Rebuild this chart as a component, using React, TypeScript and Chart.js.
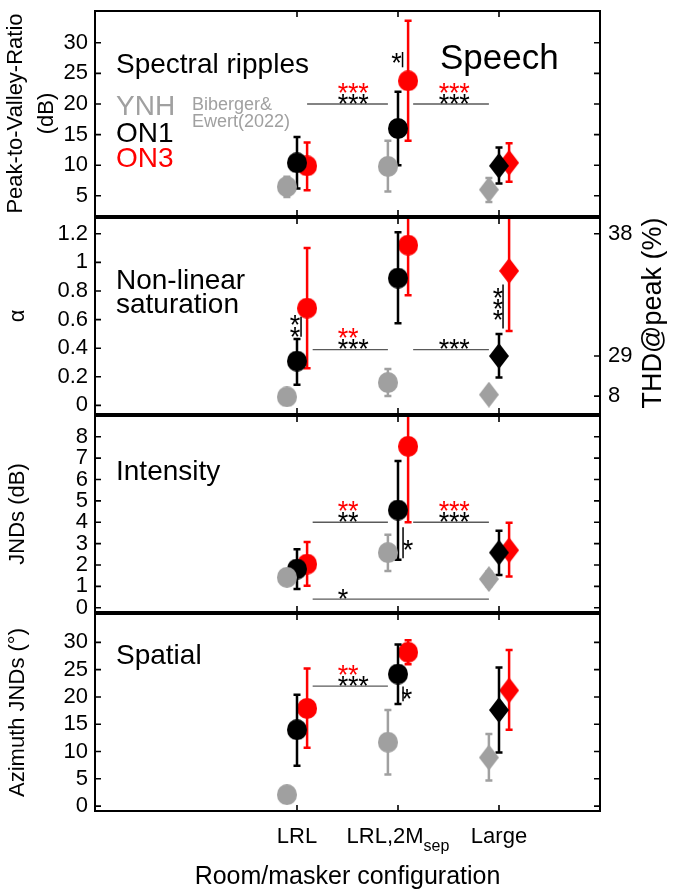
import { useEffect, useRef } from 'react';
import { Chart, registerables } from 'chart.js';

Chart.register(...registerables);

const FONT = '"Liberation Sans", Arial, Helvetica, sans-serif';
Chart.defaults.font.family = FONT;
Chart.defaults.color = '#000';

// Room/masker configurations on the shared x axis
const categoryPos = [1, 2, 3];
const categoryLabels = ['LRL', 'LRL,2M', 'Large'];
const categorySubscripts = ['', 'sep', ''];
const markerShapes = ['circle', 'circle', 'diamond'];

// Listener groups
const groupNames = ['YNH', 'ON1', 'ON3'];
const groupColors = ['#a0a0a0', '#000000', '#ff0000'];
const groupOffsets = [-0.1, 0, 0.1];

// Spectral ripples: peak-to-valley ratio (dB)
const rippleYNH = [6.5, 9.8, 6.0];
const rippleYNHLow = [4.8, 5.7, 4.0];
const rippleYNHHigh = [8.1, 14.0, 7.9];
const rippleON1 = [10.4, 16.0, 9.9];
const rippleON1Low = [6.2, 10.0, 7.0];
const rippleON1High = [14.6, 22.0, 12.9];
const rippleON3 = [9.9, 23.8, 10.4];
const rippleON3Low = [5.9, 14.0, 7.3];
const rippleON3High = [13.7, 33.6, 13.6];
const rippleTicks = [5, 10, 15, 20, 25, 30];

// Non-linear saturation: alpha
const alphaYNH = [0.06, 0.16, 0.075];
const alphaYNHLow = [0.03, 0.065, 0.05];
const alphaYNHHigh = [0.09, 0.255, 0.1];
const alphaON1 = [0.31, 0.89, 0.345];
const alphaON1Low = [0.145, 0.575, 0.195];
const alphaON1High = [0.465, 1.21, 0.5];
const alphaON3 = [0.68, 1.12, 0.94];
const alphaON3Low = [0.26, 0.77, 0.52];
const alphaON3High = [1.1, 1.47, 1.36];
const alphaTicks = [0, 0.2, 0.4, 0.6, 0.8, 1, 1.2];
// THD at peak (%) corresponding to alpha values on the right axis
const thdAlpha = [0.065, 0.345, 1.2];
const thdLabels = ['8', '29', '38'];

// Intensity JNDs (dB)
const intensityYNH = [1.42, 2.58, 1.34];
const intensityYNHLow = [1.1, 1.72, 1.0];
const intensityYNHHigh = [1.75, 3.42, 1.7];
const intensityON1 = [1.81, 4.57, 2.58];
const intensityON1Low = [0.88, 2.24, 1.53];
const intensityON1High = [2.73, 6.87, 3.6];
const intensityON3 = [2.04, 7.55, 2.69];
const intensityON3Low = [1.03, 4.0, 1.46];
const intensityON3High = [3.07, 11.1, 3.97];
const intensityTicks = [0, 1, 2, 3, 4, 5, 6, 7, 8];

// Spatial: azimuth JNDs (degrees)
const spatialYNH = [2.1, 11.7, 8.9];
const spatialYNHLow = [1.2, 5.8, 4.7];
const spatialYNHHigh = [3.0, 17.6, 13.2];
const spatialON1 = [14.0, 24.2, 17.6];
const spatialON1Low = [7.4, 18.7, 9.8];
const spatialON1High = [20.4, 29.6, 25.4];
const spatialON3 = [17.9, 28.2, 21.2];
const spatialON3Low = [10.7, 26.0, 14.0];
const spatialON3High = [25.2, 30.4, 28.6];
const spatialTicks = [0, 5, 10, 15, 20, 25, 30];

type Series = { mean: number[]; low: number[]; high: number[] };
type HLine = { x1: number; x2: number; y: number; black: number; red: number; starsAt: number };
type VMark = { x: number; y1: number; y2: number; starX: number; starYs: number[] };
type PanelText = { text: string; x: number; dy: number; size: number; color: string };
type Panel = {
  frameTop: number;
  frameBottom: number;
  yMin: number;
  yMax: number;
  yTicks: number[];
  yTitle: string | string[];
  titleLineHeight: number;
  titlePad: number;
  series: Series[];
  hlines: HLine[];
  vmarks: VMark[];
  texts: PanelText[];
  right?: { ticks: number[]; labels: string[]; title: string };
  bottom?: boolean;
};

const GRAY = '#a0a0a0';

const panels: Panel[] = [
  {
    frameTop: 10,
    frameBottom: 217,
    yMin: 1.7,
    yMax: 35.2,
    yTicks: rippleTicks,
    yTitle: ['Peak-to-Valley-Ratio', '(dB)'],
    titleLineHeight: 1.43,
    titlePad: 0,
    series: [
      { mean: rippleYNH, low: rippleYNHLow, high: rippleYNHHigh },
      { mean: rippleON1, low: rippleON1Low, high: rippleON1High },
      { mean: rippleON3, low: rippleON3Low, high: rippleON3High },
    ],
    hlines: [
      { x1: 1.1, x2: 1.9, y: 20, black: 3, red: 3, starsAt: 1.41 },
      { x1: 2.15, x2: 2.9, y: 20, black: 3, red: 3, starsAt: 2.41 },
    ],
    vmarks: [{ x: 2.045, y1: 26.0, y2: 28.5, starX: 1.985, starYs: [27.6] }],
    texts: [
      { text: 'Spectral ripples', x: 116, dy: 62, size: 28, color: '#000' },
      { text: 'Speech', x: 440, dy: 58, size: 35, color: '#000' },
      { text: groupNames[0], x: 116, dy: 104, size: 28, color: GRAY },
      { text: groupNames[1], x: 116, dy: 131, size: 28, color: '#000' },
      { text: groupNames[2], x: 116, dy: 156, size: 28, color: '#ff0000' },
      { text: 'Biberger&', x: 192, dy: 99, size: 18, color: GRAY },
      { text: 'Ewert(2022)', x: 192, dy: 116, size: 18, color: GRAY },
    ],
  },
  {
    frameTop: 217,
    frameBottom: 415,
    yMin: -0.06,
    yMax: 1.31,
    yTicks: alphaTicks,
    yTitle: 'α',
    titleLineHeight: 1.2,
    titlePad: 5,
    series: [
      { mean: alphaYNH, low: alphaYNHLow, high: alphaYNHHigh },
      { mean: alphaON1, low: alphaON1Low, high: alphaON1High },
      { mean: alphaON3, low: alphaON3Low, high: alphaON3High },
    ],
    hlines: [
      { x1: 1.155, x2: 1.9, y: 0.39, black: 3, red: 2, starsAt: 1.41 },
      { x1: 2.15, x2: 2.9, y: 0.39, black: 3, red: 0, starsAt: 2.41 },
    ],
    vmarks: [
      { x: 1.04, y1: 0.48, y2: 0.62, starX: 0.98, starYs: [0.595, 0.514] },
      { x: 3.04, y1: 0.538, y2: 0.846, starX: 2.99, starYs: [0.785, 0.709, 0.634] },
    ],
    texts: [
      { text: 'Non-linear', x: 116, dy: 71, size: 28, color: '#000' },
      { text: 'saturation', x: 116, dy: 95, size: 28, color: '#000' },
    ],
    right: { ticks: thdAlpha, labels: thdLabels, title: 'THD@peak (%)' },
  },
  {
    frameTop: 415,
    frameBottom: 613,
    yMin: -0.2,
    yMax: 8.97,
    yTicks: intensityTicks,
    yTitle: 'JNDs (dB)',
    titleLineHeight: 1.2,
    titlePad: 5,
    series: [
      { mean: intensityYNH, low: intensityYNHLow, high: intensityYNHHigh },
      { mean: intensityON1, low: intensityON1Low, high: intensityON1High },
      { mean: intensityON3, low: intensityON3Low, high: intensityON3High },
    ],
    hlines: [
      { x1: 1.155, x2: 1.9, y: 4.0, black: 2, red: 2, starsAt: 1.41 },
      { x1: 2.15, x2: 2.9, y: 4.0, black: 3, red: 3, starsAt: 2.41 },
      { x1: 1.155, x2: 2.9, y: 0.4, black: 1, red: 0, starsAt: 1.41 },
    ],
    vmarks: [{ x: 2.05, y1: 2.32, y2: 3.77, starX: 2.1, starYs: [2.93] }],
    texts: [{ text: 'Intensity', x: 116, dy: 64, size: 28, color: '#000' }],
  },
  {
    frameTop: 613,
    frameBottom: 811,
    yMin: -0.9,
    yMax: 35.2,
    yTicks: spatialTicks,
    yTitle: 'Azimuth JNDs (°)',
    titleLineHeight: 1.2,
    titlePad: 5,
    series: [
      { mean: spatialYNH, low: spatialYNHLow, high: spatialYNHHigh },
      { mean: spatialON1, low: spatialON1Low, high: spatialON1High },
      { mean: spatialON3, low: spatialON3Low, high: spatialON3High },
    ],
    hlines: [{ x1: 1.155, x2: 1.9, y: 22, black: 3, red: 2, starsAt: 1.41 }],
    vmarks: [{ x: 2.05, y1: 19.2, y2: 21.9, starX: 2.09, starYs: [20.6] }],
    texts: [{ text: 'Spatial', x: 116, dy: 50, size: 28, color: '#000' }],
    bottom: true,
  },
];

const PAGE_H = 892;
const FRAME_LEFT = 95;
const FRAME_RIGHT = 600;
const CANVAS_W = 680;
const MARGIN = 10;

function canvasBox(p: Panel) {
  const top = p.frameTop - MARGIN;
  const height = p.bottom ? PAGE_H - top : p.frameBottom - p.frameTop + 2 * MARGIN;
  return { top, height };
}

function markerImage(shape: string, color: string): HTMLCanvasElement {
  const w = 20;
  const h = shape === 'circle' ? 21 : 26;
  const c = document.createElement('canvas');
  c.width = w;
  c.height = h;
  const g = c.getContext('2d')!;
  g.fillStyle = color;
  g.beginPath();
  if (shape === 'circle') {
    g.ellipse(w / 2, h / 2, w / 2, h / 2, 0, 0, Math.PI * 2);
  } else {
    g.moveTo(w / 2, 0);
    g.lineTo(w, h / 2);
    g.lineTo(w / 2, h);
    g.lineTo(0, h / 2);
    g.closePath();
  }
  g.fill();
  return c;
}

function drawStar(ctx: CanvasRenderingContext2D, cx: number, cy: number, color: string) {
  ctx.font = `27px ${FONT}`;
  const m = ctx.measureText('*');
  const off = (m.actualBoundingBoxAscent - m.actualBoundingBoxDescent) / 2;
  ctx.fillStyle = color;
  ctx.textAlign = 'center';
  ctx.textBaseline = 'alphabetic';
  ctx.fillText('*', cx, cy + off);
}

function zeroPadding(s: any) {
  s.paddingTop = 0;
  s.paddingBottom = 0;
  s.paddingLeft = 0;
  s.paddingRight = 0;
}

function makeDecor(p: Panel) {
  return {
    id: 'panelDecor',
    beforeDatasetDraw(chart: any, args: any) {
      const ds = chart.data.datasets[args.index];
      const { ctx, chartArea: ca } = chart;
      const x = chart.scales.x;
      const y = chart.scales.y;
      ctx.save();
      ctx.beginPath();
      ctx.rect(ca.left, ca.top, ca.right - ca.left, ca.bottom - ca.top);
      ctx.clip();
      ctx.strokeStyle = ds.barColor;
      ctx.lineWidth = 2.5;
      ds.data.forEach((pt: any, i: number) => {
        const px = x.getPixelForValue(pt.x);
        const lo = y.getPixelForValue(ds.errLow[i]);
        const hi = y.getPixelForValue(ds.errHigh[i]);
        ctx.beginPath();
        ctx.moveTo(px, lo);
        ctx.lineTo(px, hi);
        ctx.moveTo(px - 3.5, lo);
        ctx.lineTo(px + 3.5, lo);
        ctx.moveTo(px - 3.5, hi);
        ctx.lineTo(px + 3.5, hi);
        ctx.stroke();
      });
      ctx.restore();
    },
    afterDatasetsDraw(chart: any) {
      const { ctx, chartArea: ca } = chart;
      const x = chart.scales.x;
      const y = chart.scales.y;
      ctx.save();
      // significance brackets
      for (const h of p.hlines) {
        const py = y.getPixelForValue(h.y);
        ctx.strokeStyle = '#5a5a5a';
        ctx.lineWidth = 1.3;
        ctx.beginPath();
        ctx.moveTo(x.getPixelForValue(h.x1), py);
        ctx.lineTo(x.getPixelForValue(h.x2), py);
        ctx.stroke();
        const x0 = x.getPixelForValue(h.starsAt) + 4.5;
        for (let i = 0; i < h.black; i++) drawStar(ctx, x0 + i * 10.3, py - 5.5, '#000');
        for (let i = 0; i < h.red; i++) drawStar(ctx, x0 + i * 10.3, py - 16.5, '#ff0000');
      }
      for (const v of p.vmarks) {
        const px = x.getPixelForValue(v.x);
        ctx.strokeStyle = '#000';
        ctx.lineWidth = 1.5;
        ctx.beginPath();
        ctx.moveTo(px, y.getPixelForValue(v.y1));
        ctx.lineTo(px, y.getPixelForValue(v.y2));
        ctx.stroke();
        const sx = x.getPixelForValue(v.starX);
        for (const sy of v.starYs) drawStar(ctx, sx, y.getPixelForValue(sy), '#000');
      }
      // panel labels
      ctx.textAlign = 'left';
      ctx.textBaseline = 'alphabetic';
      for (const t of p.texts) {
        ctx.font = `${t.size}px ${FONT}`;
        ctx.fillStyle = t.color;
        ctx.fillText(t.text, t.x, ca.top + t.dy);
      }
      ctx.restore();
    },
    afterDraw(chart: any) {
      const { ctx, chartArea: ca } = chart;
      const x = chart.scales.x;
      const y = chart.scales.y;
      const TL = 6;
      ctx.save();
      ctx.strokeStyle = '#000';
      ctx.lineWidth = 2;
      ctx.strokeRect(ca.left, ca.top, ca.right - ca.left, ca.bottom - ca.top);
      ctx.lineWidth = 1.6;
      ctx.beginPath();
      for (const t of y.ticks) {
        const py = y.getPixelForValue(t.value);
        ctx.moveTo(ca.left, py);
        ctx.lineTo(ca.left + TL, py);
        if (!p.right) {
          ctx.moveTo(ca.right, py);
          ctx.lineTo(ca.right - TL, py);
        }
      }
      if (p.right) {
        const y2 = chart.scales.y2;
        for (const t of y2.ticks) {
          const py = y2.getPixelForValue(t.value);
          ctx.moveTo(ca.right, py);
          ctx.lineTo(ca.right - TL, py);
        }
      }
      for (const c of categoryPos) {
        const px = x.getPixelForValue(c);
        ctx.moveTo(px, ca.top);
        ctx.lineTo(px, ca.top + TL);
        ctx.moveTo(px, ca.bottom);
        ctx.lineTo(px, ca.bottom - TL);
      }
      ctx.stroke();

      // right-hand axis title, reading bottom to top
      if (p.right) {
        ctx.save();
        ctx.translate(654, (ca.top + ca.bottom) / 2 - 3);
        ctx.rotate(-Math.PI / 2);
        ctx.font = `27px ${FONT}`;
        ctx.fillStyle = '#000';
        ctx.textAlign = 'center';
        ctx.textBaseline = 'middle';
        ctx.fillText(p.right.title, 0, 0);
        ctx.restore();
      }

      // configuration labels with subscripts
      if (p.bottom) {
        const base = ca.bottom + 32;
        ctx.fillStyle = '#000';
        ctx.textBaseline = 'alphabetic';
        ctx.textAlign = 'left';
        categoryPos.forEach((c, i) => {
          ctx.font = `22px ${FONT}`;
          const wMain = ctx.measureText(categoryLabels[i]).width;
          ctx.font = `16px ${FONT}`;
          const wSub = categorySubscripts[i] ? ctx.measureText(categorySubscripts[i]).width : 0;
          const start = x.getPixelForValue(c) - (wMain + wSub) / 2;
          ctx.font = `22px ${FONT}`;
          ctx.fillText(categoryLabels[i], start, base);
          if (wSub) {
            ctx.font = `16px ${FONT}`;
            ctx.fillText(categorySubscripts[i], start + wMain, base + 8);
          }
        });
      }
      ctx.restore();
    },
  };
}

function buildChart(canvas: HTMLCanvasElement, p: Panel) {
  const datasets = p.series.map((s, gi) => ({
    label: groupNames[gi],
    data: s.mean.map((v, i) => ({ x: categoryPos[i] + groupOffsets[gi], y: v })),
    errLow: s.low,
    errHigh: s.high,
    barColor: groupColors[gi],
    pointStyle: markerShapes.map((sh) => markerImage(sh, groupColors[gi])),
    pointRadius: 10,
    showLine: false,
  }));

  const tickFont = { size: 22, family: FONT };
  const scales: any = {
    x: {
      type: 'linear',
      min: -1,
      max: 4,
      display: !!p.bottom,
      grid: { display: false, drawTicks: false },
      border: { display: false },
      ticks: { display: false },
      title: p.bottom
        ? {
            display: true,
            text: 'Room/masker configuration',
            font: { size: 25, family: FONT },
            color: '#000',
            padding: { top: 0, bottom: 0 },
          }
        : { display: false },
      afterFit: (s: any) => {
        zeroPadding(s);
        s.height = p.bottom ? PAGE_H - p.frameBottom : 0;
      },
    },
    y: {
      type: 'linear',
      position: 'left',
      min: p.yMin,
      max: p.yMax,
      grid: { display: false, drawTicks: false },
      border: { display: false },
      afterBuildTicks: (s: any) => {
        s.ticks = p.yTicks.map((v) => ({ value: v }));
      },
      ticks: {
        font: tickFont,
        color: '#000',
        padding: 7,
        autoSkip: false,
        callback: (v: any) => String(Math.round(Number(v) * 10) / 10),
      },
      title: {
        display: true,
        text: p.yTitle,
        color: '#000',
        font: { size: 22, family: FONT, lineHeight: p.titleLineHeight },
        padding: { top: p.titlePad, bottom: 0 },
      },
      afterFit: (s: any) => {
        zeroPadding(s);
        s.width = FRAME_LEFT;
      },
    },
  };
  if (p.right) {
    const r = p.right;
    scales.y2 = {
      type: 'linear',
      position: 'right',
      min: p.yMin,
      max: p.yMax,
      grid: { display: false, drawTicks: false },
      border: { display: false },
      afterBuildTicks: (s: any) => {
        s.ticks = r.ticks.map((v) => ({ value: v }));
      },
      ticks: {
        font: tickFont,
        color: '#000',
        padding: 8,
        autoSkip: false,
        callback: (_v: any, i: number) => r.labels[i],
      },
      afterFit: (s: any) => {
        zeroPadding(s);
        s.width = CANVAS_W - FRAME_RIGHT;
      },
    };
  }

  return new Chart(canvas, {
    type: 'scatter',
    data: { datasets: datasets as any },
    options: {
      responsive: false,
      maintainAspectRatio: false,
      animation: false,
      events: [],
      layout: {
        padding: {
          top: MARGIN,
          bottom: p.bottom ? 0 : MARGIN,
          left: 0,
          right: p.right ? 0 : CANVAS_W - FRAME_RIGHT,
        },
      },
      plugins: {
        legend: { display: false },
        tooltip: { enabled: false },
      },
      scales,
    },
    plugins: [makeDecor(p)],
  });
}

export default function App() {
  const refs = useRef<(HTMLCanvasElement | null)[]>([]);

  useEffect(() => {
    const charts = panels.map((p, i) => buildChart(refs.current[i]!, p));
    return () => charts.forEach((c) => c.destroy());
  }, []);

  return (
    <div
      style={{
        position: 'absolute',
        left: 0,
        top: 0,
        width: CANVAS_W,
        height: PAGE_H,
        background: '#fff',
        overflow: 'hidden',
      }}
    >
      {panels.map((p, i) => {
        const box = canvasBox(p);
        return (
          <canvas
            key={i}
            ref={(el) => {
              refs.current[i] = el;
            }}
            width={CANVAS_W}
            height={box.height}
            style={{ position: 'absolute', left: 0, top: box.top, width: CANVAS_W, height: box.height }}
          />
        );
      })}
    </div>
  );
}
